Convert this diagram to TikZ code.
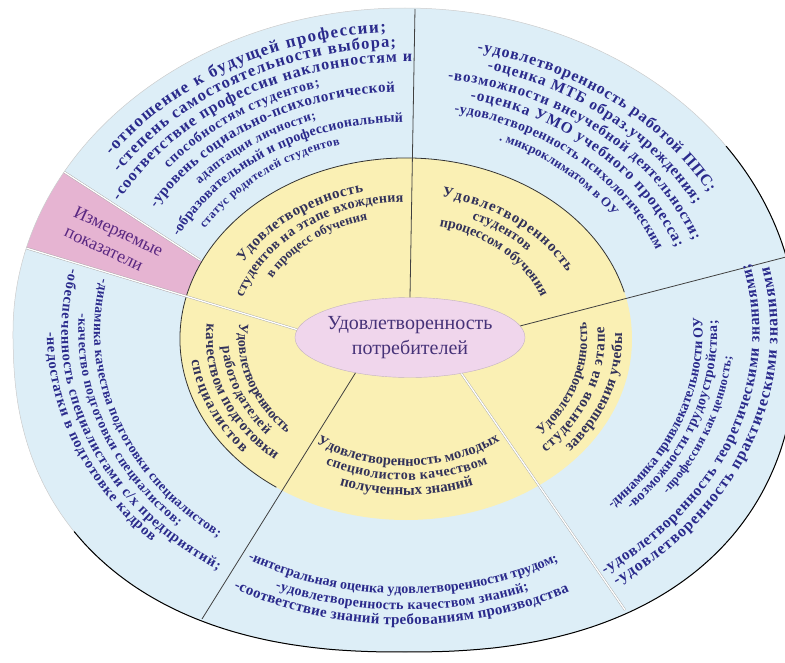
\documentclass[tikz,border=0pt]{standalone}
\usepackage{fontspec}
\setmainfont{Liberation Serif}
\usetikzlibrary{shapes.geometric, decorations.text}

\definecolor{ringblue}{RGB}{221,238,247}
\definecolor{coreyellow}{RGB}{250,240,180}
\definecolor{tagpink}{RGB}{230,180,210}
\definecolor{hubpink}{RGB}{240,214,236}
\definecolor{ringink}{RGB}{42,42,140}
\definecolor{coreink}{RGB}{50,50,90}
\definecolor{hubink}{RGB}{70,50,120}
\definecolor{tagink}{RGB}{90,40,130}

% one line of text on the outer ring: size, start, end, radius, text
\newcommand{\ringline}[5]{%
    \pgfmathsetmacro{\ringrx}{1.21*#4}%
    {\fontsize{#1}{#1}\selectfont\bfseries
    \path[decorate, decoration={text along path, text align=fit to path,
        text color=ringink, text={#5}}]
        ({\ringrx*cos(#2)}, {#4*sin(#2)})
        arc[start angle=#2, end angle=#3, x radius=\ringrx, y radius=#4];}}

% same for the yellow core
\newcommand{\coreline}[5]{%
    \pgfmathsetmacro{\corerx}{1.25*#4}%
    {\fontsize{#1}{#1}\selectfont\bfseries
    \path[decorate, decoration={text along path, text align=fit to path,
        text color=coreink, text={#5}}]
        ({1+\corerx*cos(#2)}, {-7+#4*sin(#2)})
        arc[start angle=#2, end angle=#3, x radius=\corerx, y radius=#4];}}

\begin{document}
\begin{tikzpicture}[
        x = 1pt, y = 1pt,
        hub/.style = {ellipse, fill=hubpink, draw=hubpink!60!gray,
            minimum width=230pt, minimum height=80pt, inner sep=0pt},
        hubtext/.style = {align=center, text=hubink,
            font=\fontsize{20}{25}\selectfont},
        tag/.style = {align=left, text=tagink,
            font=\fontsize{18}{22}\selectfont},
        divider/.style = {draw=black!75, line width=0.8pt}, % plain sector border
        seam/.style = {draw=gray!70, line width=0.4pt,
            double=white, double distance=1.3pt} % light sector border
    ]

    \useasboundingbox (-405,-330) rectangle (380,332);

    % outer ring: half ellipse on top, squarer bottom
    \fill[ringblue] (-392,0) -- plot[domain=180.5:359.5, samples=60, smooth]
        ({392*sign(cos(\x))*abs(cos(\x))^0.85}, {-320*abs(sin(\x))^0.85})
        -- (392,0) arc[start angle=0, end angle=180, x radius=392, y radius=324]
        -- cycle;

    % pink sector
    \fill[tagpink] (-150,13.5) -- (165:392 and 324)
        arc[start angle=165, end angle=150.4, x radius=392, y radius=324]
        -- (-170,49) -- cycle;

    % yellow core
    \fill[coreyellow] (1,-7) ellipse[x radius=226, y radius=181];
    \draw[black!80, line width=0.8pt] ([shift={(1,-7)}]15:226 and 181)
        arc[start angle=15, end angle=235, x radius=226, y radius=181];

    \node[hub] (hub) at (5,-5.5) {};
    \node[hubtext] (hubtext) at (hub) {Удовлетворенность\\потребителей};

    \coordinate (rimN) at (10,323);
    \coordinate (rimNE) at (381,75);
    \coordinate (rimSE) at (220,-278);
    \coordinate (rimSW) at (-203,-287);
    \coordinate (rimW) at (165:392 and 324);
    \coordinate (rimNW) at (150.4:392 and 324);
    \coordinate (coreNW) at (-205,72);

    \draw[divider] (hub.north) -- (rimN);
    \draw[divider] (hub.6) -- (rimNE);
    \draw[seam] (hub.-35) -- (rimSE);
    \draw[divider] (hub.213) -- (rimSW);
    \draw[seam] (hub.176) -- (rimW);
    \draw[seam] (coreNW) -- (rimNW);

    % rim outline, dark along the bottom
    \draw[gray!40, line width=0.5pt] (-392,0) -- plot[domain=180.5:359.5,
        samples=60, smooth]
        ({392*sign(cos(\x))*abs(cos(\x))^0.85}, {-320*abs(sin(\x))^0.85})
        -- (392,0) arc[start angle=0, end angle=180, x radius=392, y radius=324]
        -- cycle;
    \draw[black, line width=1pt] plot[domain=215:359.5, samples=50, smooth]
        ({392*sign(cos(\x))*abs(cos(\x))^0.85}, {-320*abs(sin(\x))^0.85})
        -- (392,0) arc[start angle=0, end angle=35, x radius=392, y radius=324];

    \node[tag, rotate=-25] (tag) at (-291,91) {Измеряемые\\показатели};

    % upper left
    \ringline{17}{144}{93}{300}{-отношение к будущей профессии;}
    \ringline{16.5}{146}{91.5}{285}{-степень самостоятельности выбора;}
    \ringline{16}{151}{88.8}{270}{-соответствие профессии наклонностям и}
    \ringline{14}{140}{106}{255}{способностям студентов;}
    \ringline{15}{149}{92}{240}{-уровень социально-психологической}
    \ringline{13}{139}{109}{225}{адаптации личности;}
    \ringline{14}{153}{90.5}{210}{-образовательный и профессиональный}
    \ringline{12}{148}{106}{195}{статус родителей студентов}

    % upper right
    \ringline{16}{78}{29}{287}{-удовлетворенность работой ППС;}
    \ringline{15.5}{75.5}{28}{271}{-оценка МТБ образ.учреждения;}
    \ringline{15}{82}{21}{255}{-возможности внеучебной деятельности;}
    \ringline{15.5}{77}{20.5}{239}{-оценка УМО учебного процесса;}
    \ringline{14}{79.5}{21.5}{223}{-удовлетворенность психологическим}
    \ringline{13}{68}{34}{207}{. микроклиматом в ОУ}

    % right
    \ringline{14}{-46}{3.5}{246}{-динамика привлекательности ОУ;}
    \ringline{14}{-43.6}{2.6}{258}{-возможности трудоустройства;}
    \ringline{12.5}{-36.8}{-5.2}{271}{-профессия как ценность;}
    \ringline{15.5}{-55.7}{13.5}{293}{-удовлетворенность теоретическими знаниями;}
    \ringline{16}{-55.4}{12.2}{308}{-удовлетворенность практическими знаниями}

    % bottom
    \ringline{14}{240.3}{298.9}{262}{-интегральная оценка удовлетворенности трудом;}
    \ringline{14}{247.3}{291.6}{278}{-удовлетворенность качеством знаний;}
    \ringline{15}{241.1}{297.6}{293}{-соответствие знаний требованиям производства}

    % left
    \ringline{13.5}{168}{233}{257}{-динамика качества подготовки специалистов;}
    \ringline{13.5}{176}{226}{270}{-качество подготовки специалистов;}
    \ringline{14.5}{167}{237}{284}{-обеспеченность специалистами с/х предприятий;}
    \ringline{14.5}{180}{225}{296}{-недостатки в подготовке кадров}

    % core sectors
    \coreline{15}{149.5}{103}{151}{Удовлетворенность}
    \coreline{14}{162.3}{90.9}{137}{студентов на этапе вхождения}
    \coreline{13}{150.6}{104.4}{123}{в процесс обучения}

    \coreline{15}{78.6}{27.3}{145}{Удовлетворенность}
    \coreline{14}{66.3}{42.2}{131}{студентов}
    \coreline{14}{76.7}{21.6}{116}{процессом обучения}

    \coreline{14}{-41.6}{6.6}{145}{Удовлетворенность}
    \coreline{15}{-45.4}{4.5}{159}{студентов на этапе}
    \coreline{15}{-40.6}{1.9}{173}{завершения учебы}

    \coreline{14.5}{235.6}{305.2}{127}{Удовлетворенность молодых}
    \coreline{14}{242.9}{297.7}{141}{специолистов качеством}
    \coreline{15}{250.1}{290}{156}{полученных знаний}

    \coreline{14}{173.4}{224.2}{134}{Удовлетворенность}
    \coreline{14}{183.1}{220.6}{147}{работодателей}
    \coreline{15}{174.6}{229}{160}{качеством подготовки}
    \coreline{15}{187}{221.1}{173}{специалистов}

\end{tikzpicture}
\end{document}
